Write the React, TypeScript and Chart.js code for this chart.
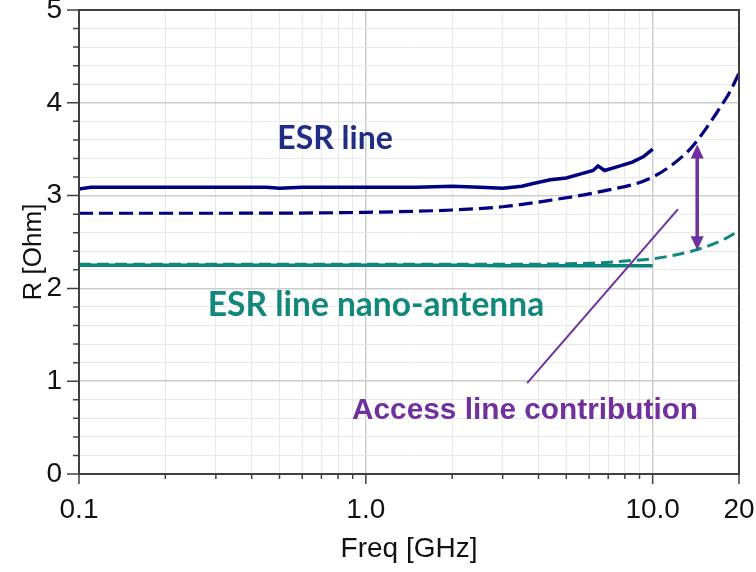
import React, { useEffect, useRef } from "react";
import { Chart, registerables } from "chart.js";
Chart.register(...registerables);

// ---- data ----
const esrFreq = [0.1, 0.11, 0.2, 0.3, 0.45, 0.5, 0.6, 0.8, 1.0, 1.5, 2.0, 2.5, 3.0, 3.5, 3.83, 4.4, 5.0, 5.7, 6.2, 6.45, 6.8, 7.5, 8.5, 9.3, 10.0];
const esrR = [3.07, 3.09, 3.09, 3.09, 3.09, 3.08, 3.09, 3.09, 3.09, 3.09, 3.10, 3.09, 3.08, 3.10, 3.13, 3.17, 3.19, 3.24, 3.27, 3.32, 3.27, 3.31, 3.36, 3.42, 3.50];

const esrModelFreq = [0.1, 0.3, 1, 2, 3, 4.4, 6.5, 10, 13.4, 14.6, 16.7, 18.6, 20];
const esrModelR = [2.81, 2.81, 2.82, 2.845, 2.88, 2.95, 3.04, 3.20, 3.49, 3.63, 3.89, 4.12, 4.32];

const nanoFreq = [0.1, 0.3, 1, 2, 3, 5, 7, 10];
const nanoR = [2.25, 2.25, 2.25, 2.25, 2.245, 2.245, 2.245, 2.245];

const nanoModelFreq = [0.1, 1, 3, 5, 6.5, 8, 10, 12, 14, 16, 18, 20];
const nanoModelR = [2.26, 2.26, 2.26, 2.265, 2.275, 2.295, 2.32, 2.36, 2.41, 2.47, 2.54, 2.62];

const accessFreq = [3.65, 12.26];
const accessR = [0.98, 2.855];

const arrowFreq = 14.3;
const arrowR = [2.41, 3.55];

const xTickValues = [0.1, 0.2, 0.3, 0.4, 0.5, 0.6, 0.7, 0.8, 0.9, 1, 2, 3, 4, 5, 6, 7, 8, 9, 10, 20];
const xMajor = [0.1, 1, 10, 20];
const xLabelText = ["0.1", "1.0", "10.0", "20"];
const yTickValues = Array.from({ length: 26 }, (_, i) => Math.round(i * 2) / 10);

const labels = [
  { text: "ESR line", f: 0.781, r: 3.50, color: "#1f2d86", font: "bold 32px Lato" },
  { text: "ESR line nano-antenna", f: 1.085, r: 1.70, color: "#12877c", font: "bold 33.5px Lato" },
  { text: "Access line contribution", f: 3.59, r: 0.59, color: "#7030a0", font: "bold 29.8px 'Liberation Sans'" },
];

const xy = (fs: number[], rs: number[]) => fs.map((f, i) => ({ x: f, y: rs[i] }));

const MAJOR = "#cccccc";
const MINOR = "#e8e8e8";
const AXIS = "#404040";

const zeroPad = (s: any) => {
  s.paddingLeft = 0;
  s.paddingRight = 0;
  s.paddingTop = 0;
  s.paddingBottom = 0;
};

const decor = {
  id: "decor",
  afterDraw(chart: any) {
    const ctx = chart.ctx;
    const { left, right, top, bottom } = chart.chartArea;
    const xs = chart.scales.x;
    const ys = chart.scales.y;
    ctx.save();
    // frame
    ctx.strokeStyle = AXIS;
    ctx.lineWidth = 2;
    ctx.strokeRect(left, top, right - left, bottom - top);
    // tick marks
    ctx.lineWidth = 1.5;
    ctx.beginPath();
    yTickValues.forEach((v) => {
      const y = ys.getPixelForValue(v);
      const len = Number.isInteger(v) ? 12 : 6;
      ctx.moveTo(left - len, y);
      ctx.lineTo(left, y);
    });
    xTickValues.forEach((v) => {
      const x = xs.getPixelForValue(v);
      const len = xMajor.includes(v) ? 10 : 5;
      ctx.moveTo(x, bottom);
      ctx.lineTo(x, bottom + len);
    });
    ctx.stroke();

    // arrow
    const ax = xs.getPixelForValue(arrowFreq);
    const ay1 = ys.getPixelForValue(arrowR[0]);
    const ay2 = ys.getPixelForValue(arrowR[1]);
    ctx.strokeStyle = "#7030a0";
    ctx.fillStyle = "#7030a0";
    ctx.lineWidth = 3.5;
    ctx.beginPath();
    ctx.moveTo(ax, ay1 - 12);
    ctx.lineTo(ax, ay2 + 12);
    ctx.stroke();
    ctx.beginPath();
    ctx.moveTo(ax, ay2);
    ctx.lineTo(ax - 6.5, ay2 + 14);
    ctx.lineTo(ax + 6.5, ay2 + 14);
    ctx.closePath();
    ctx.fill();
    ctx.beginPath();
    ctx.moveTo(ax, ay1);
    ctx.lineTo(ax - 6.5, ay1 - 14);
    ctx.lineTo(ax + 6.5, ay1 - 14);
    ctx.closePath();
    ctx.fill();

    // annotation texts
    ctx.textAlign = "center";
    ctx.textBaseline = "alphabetic";
    labels.forEach((l) => {
      ctx.font = l.font;
      ctx.fillStyle = l.color;
      ctx.fillText(l.text, xs.getPixelForValue(l.f), ys.getPixelForValue(l.r));
    });

    // axis titles
    ctx.fillStyle = "#111111";
    ctx.font = "28px 'Liberation Sans'";
    ctx.textAlign = "center";
    ctx.textBaseline = "alphabetic";
    ctx.fillText("Freq [GHz]", (left + right) / 2, bottom + 83);
    ctx.save();
    ctx.translate(34, (top + bottom) / 2 + 10);
    ctx.rotate(-Math.PI / 2);
    ctx.textBaseline = "middle";
    ctx.font = "26px 'Liberation Sans'";
    ctx.fillText("R [Ohm]", 0, 0);
    ctx.restore();
    ctx.restore();
  },
};

export default function App() {
  const ref = useRef<HTMLCanvasElement>(null);
  useEffect(() => {
    if (!ref.current) return;
    const chart = new Chart(ref.current, {
      type: "line",
      data: {
        datasets: [
          {
            data: xy(accessFreq, accessR),
            borderColor: "#7030a0",
            borderWidth: 2,
            pointRadius: 0,
          },
          {
            data: xy(esrFreq, esrR),
            borderColor: "#000080",
            borderWidth: 3.5,
            pointRadius: 0,
          },
          {
            data: xy(esrModelFreq, esrModelR),
            borderColor: "#000080",
            borderWidth: 3.2,
            borderDash: [14, 6],
            pointRadius: 0,
            cubicInterpolationMode: "monotone",
          },
          {
            data: xy(nanoModelFreq, nanoModelR),
            borderColor: "#0f877d",
            borderWidth: 3,
            borderDash: [12, 6],
            pointRadius: 0,
            cubicInterpolationMode: "monotone",
          },
          {
            data: xy(nanoFreq, nanoR),
            borderColor: "#0a857b",
            borderWidth: 3.5,
            pointRadius: 0,
          },
        ],
      },
      options: {
        responsive: false,
        animation: false,
        layout: { padding: { top: 18, right: 17, left: 0, bottom: 0 } },
        plugins: { legend: { display: false }, tooltip: { enabled: false } },
        scales: {
          x: {
            type: "logarithmic",
            min: 0.1,
            max: 20,
            afterBuildTicks: (s: any) => {
              s.ticks = xTickValues.map((v) => ({ value: v }));
            },
            afterFit: (s: any) => {
              s.height = 98;
              zeroPad(s);
            },
            grid: {
              drawTicks: false,
              color: (c: any) => (c.tick && [1, 10].includes(c.tick.value) ? MAJOR : MINOR),
              lineWidth: (c: any) => (c.tick && [1, 10].includes(c.tick.value) ? 1.5 : 1),
            },
            border: { display: true, color: AXIS, width: 2 },
            ticks: {
              autoSkip: false,
              maxRotation: 0,
              padding: 19,
              color: "#111111",
              font: { family: "'Liberation Sans'", size: 28 },
              callback: (v: any) => {
                const i = xMajor.indexOf(Number(v));
                return i >= 0 ? xLabelText[i] : "";
              },
            },
          },
          y: {
            type: "linear",
            min: 0,
            max: 5,
            afterBuildTicks: (s: any) => {
              s.ticks = yTickValues.map((v) => ({ value: v }));
            },
            afterFit: (s: any) => {
              s.width = 79;
              zeroPad(s);
            },
            grid: {
              drawTicks: false,
              color: (c: any) => (c.tick && Number.isInteger(c.tick.value) ? MAJOR : MINOR),
              lineWidth: (c: any) => (c.tick && Number.isInteger(c.tick.value) ? 1.5 : 1),
            },
            border: { display: true, color: AXIS, width: 2 },
            ticks: {
              autoSkip: false,
              padding: 17,
              color: "#111111",
              font: { family: "'Liberation Sans'", size: 28 },
              callback: (v: any) => (Number.isInteger(Number(v)) ? String(v) : ""),
            },
          },
        },
      },
      plugins: [decor],
    });
    return () => chart.destroy();
  }, []);
  return (
    <div style={{ position: "absolute", left: 0, top: -8, width: 756, height: 580 }}>
      <canvas ref={ref} width={756} height={580} style={{ display: "block" }} />
    </div>
  );
}
